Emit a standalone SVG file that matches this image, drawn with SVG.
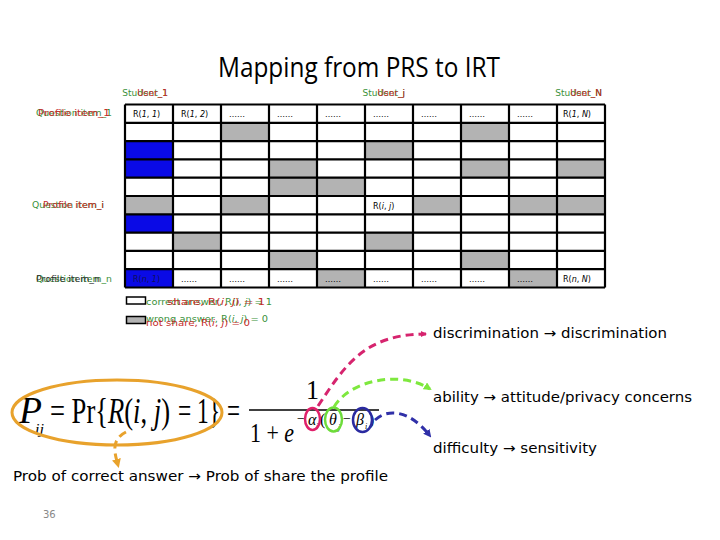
<svg xmlns="http://www.w3.org/2000/svg" width="720" height="540" viewBox="0 0 720 540">
<style>
.lbl{font-family:"DejaVu Sans",Verdana,sans-serif;font-size:9px}
.g{fill:#3a913a}
.r{fill:#c42a2a}
.cell{font-family:"DejaVu Sans",Verdana,sans-serif;font-size:8px;fill:#000}
.gray{fill:#b3b3b3}
.blue{fill:#0a0ae6}
.grid{stroke:#000;stroke-width:2.2;fill:none}
.eq{font-family:"Liberation Serif","Times New Roman",serif;fill:#000}
.txt{font-family:"DejaVu Sans",Verdana,sans-serif;font-size:14px;fill:#000}
.dash{fill:none;stroke-width:3;stroke-dasharray:8 5}
</style>
<defs>
<marker id="aPink" markerWidth="6" markerHeight="6" refX="5" refY="3" orient="auto" markerUnits="userSpaceOnUse"><path d="M0,0 L6,3 L0,6 z" fill="#d6246e"/></marker>
<marker id="aGreen" markerWidth="8" markerHeight="8" refX="6" refY="4" orient="auto" markerUnits="userSpaceOnUse"><path d="M0,0 L8,4 L0,8 z" fill="#7ee83e"/></marker>
<marker id="aBlue" markerWidth="8" markerHeight="8" refX="6" refY="4" orient="auto" markerUnits="userSpaceOnUse"><path d="M0,0 L8,4 L0,8 z" fill="#3030a8"/></marker>
<marker id="aOrange" markerWidth="9" markerHeight="9" refX="6" refY="4.5" orient="auto" markerUnits="userSpaceOnUse"><path d="M0,0 L9,4.5 L0,9 z" fill="#e8a22c"/></marker>
</defs>

<rect width="720" height="540" fill="#fff"/>

<g id="title">
<text x="359" y="77" text-anchor="middle" font-family="'Open Sans','Liberation Sans',sans-serif" font-size="27" textLength="282" lengthAdjust="spacingAndGlyphs" fill="#000">Mapping from PRS to IRT</text>
</g>

<g id="col-labels" class="lbl">
<text x="168" y="96" text-anchor="end" class="g">Student_1</text>
<text x="168" y="96" text-anchor="end" class="r">User_1</text>
<text x="405" y="96" text-anchor="end" class="g">Student_j</text>
<text x="405" y="96" text-anchor="end" class="r">User_j</text>
<text x="602" y="96" text-anchor="end" class="g">Student_N</text>
<text x="602" y="96" text-anchor="end" class="r">User_N</text>
</g>

<g id="row-labels" class="lbl">
<text x="36" y="116" textLength="76" lengthAdjust="spacingAndGlyphs" class="g">Question item_1</text>
<text x="38" y="116" textLength="72" lengthAdjust="spacingAndGlyphs" class="r">Profile item_1</text>
<text x="32" y="208" textLength="72" lengthAdjust="spacingAndGlyphs" class="g">Question item_i</text>
<text x="43" y="208" textLength="61" lengthAdjust="spacingAndGlyphs" class="r">Profile item_i</text>
<text x="36" y="282" textLength="76" lengthAdjust="spacingAndGlyphs" class="g">Question item_n</text>
<text x="36" y="282" textLength="64" lengthAdjust="spacingAndGlyphs" fill="#333">Profile item_n</text>
</g>

<g id="matrix">
<g id="fills">
<rect class="gray" x="221" y="122.8" width="48" height="18.3"/>
<rect class="gray" x="461" y="122.8" width="48" height="18.3"/>
<rect class="blue" x="125" y="141.1" width="48" height="18.3"/>
<rect class="gray" x="365" y="141.1" width="48" height="18.3"/>
<rect class="blue" x="125" y="159.4" width="48" height="18.3"/>
<rect class="gray" x="269" y="159.4" width="48" height="18.3"/>
<rect class="gray" x="461" y="159.4" width="48" height="18.3"/>
<rect class="gray" x="557" y="159.4" width="48" height="18.3"/>
<rect class="gray" x="269" y="177.7" width="48" height="18.3"/>
<rect class="gray" x="317" y="177.7" width="48" height="18.3"/>
<rect class="gray" x="125" y="196" width="48" height="18.3"/>
<rect class="gray" x="221" y="196" width="48" height="18.3"/>
<rect class="gray" x="413" y="196" width="48" height="18.3"/>
<rect class="gray" x="509" y="196" width="48" height="18.3"/>
<rect class="gray" x="557" y="196" width="48" height="18.3"/>
<rect class="blue" x="125" y="214.3" width="48" height="18.3"/>
<rect class="gray" x="173" y="232.6" width="48" height="18.3"/>
<rect class="gray" x="365" y="232.6" width="48" height="18.3"/>
<rect class="gray" x="269" y="250.9" width="48" height="18.3"/>
<rect class="gray" x="461" y="250.9" width="48" height="18.3"/>
<rect class="blue" x="125" y="269.2" width="48" height="18.3"/>
<rect class="gray" x="317" y="269.2" width="48" height="18.3"/>
<rect class="gray" x="509" y="269.2" width="48" height="18.3"/>
</g>
<path class="grid" d="M125,104.5V287.5M173,104.5V287.5M221,104.5V287.5M269,104.5V287.5M317,104.5V287.5M365,104.5V287.5M413,104.5V287.5M461,104.5V287.5M509,104.5V287.5M557,104.5V287.5M605,104.5V287.5
M125,104.5H605M125,122.8H605M125,141.1H605M125,159.4H605M125,177.7H605M125,196H605M125,214.3H605M125,232.6H605M125,250.9H605M125,269.2H605M125,287.5H605"/>
<g class="cell">
<text x="133" y="117">R(<tspan font-style="italic">1</tspan>, <tspan font-style="italic">1</tspan>)</text>
<text x="181" y="117">R(<tspan font-style="italic">1</tspan>, <tspan font-style="italic">2</tspan>)</text>
<text x="229" y="117">……</text>
<text x="277" y="117">……</text>
<text x="325" y="117">……</text>
<text x="373" y="117">……</text>
<text x="421" y="117">……</text>
<text x="469" y="117">……</text>
<text x="517" y="117">……</text>
<text x="563" y="117">R(<tspan font-style="italic">1</tspan>, <tspan font-style="italic">N</tspan>)</text>
<text x="373" y="208.5">R(<tspan font-style="italic">i</tspan>, <tspan font-style="italic">j</tspan>)</text>
<text x="133" y="282" fill="#10105a">R(<tspan font-style="italic">n</tspan>, <tspan font-style="italic">1</tspan>)</text>
<text x="181" y="282">……</text>
<text x="229" y="282">……</text>
<text x="277" y="282">……</text>
<text x="325" y="282">……</text>
<text x="373" y="282">……</text>
<text x="421" y="282">……</text>
<text x="469" y="282">……</text>
<text x="517" y="282">……</text>
<text x="563" y="282">R(<tspan font-style="italic">n</tspan>, <tspan font-style="italic">N</tspan>)</text>
</g>
</g>

<g id="legend">
<rect x="126.5" y="297" width="19" height="7" fill="#fff" stroke="#000" stroke-width="1.5"/>
<rect x="126.5" y="316.5" width="19" height="7" fill="#b3b3b3" stroke="#000" stroke-width="1.5"/>
<text x="146" y="305" class="lbl g" font-size="10" textLength="126" lengthAdjust="spacingAndGlyphs">correct answer, R(<tspan font-style="italic">i</tspan>, <tspan font-style="italic">j</tspan>) = 1</text>
<text x="167" y="305" class="lbl r" font-size="10" textLength="98" lengthAdjust="spacingAndGlyphs">share, R(<tspan font-style="italic">i</tspan>, <tspan font-style="italic">j</tspan>) = 1</text>
<text x="146" y="322" class="lbl g" font-size="10" textLength="122" lengthAdjust="spacingAndGlyphs">wrong answer, R(<tspan font-style="italic">i</tspan>, <tspan font-style="italic">j</tspan>) = 0</text>
<text x="146" y="326" class="lbl r" font-size="10" textLength="104" lengthAdjust="spacingAndGlyphs">not share, R(<tspan font-style="italic">i</tspan>, <tspan font-style="italic">j</tspan>) = 0</text>
</g>

<g id="formula" class="eq">
<text x="19" y="423" font-size="38" font-style="italic" textLength="23" lengthAdjust="spacingAndGlyphs">P</text>
<text x="35" y="434" font-size="15" font-style="italic" textLength="9" lengthAdjust="spacingAndGlyphs">ij</text>
<text x="50" y="423" font-size="36" textLength="58" lengthAdjust="spacingAndGlyphs">= Pr{</text>
<text x="108" y="423" font-size="36" textLength="62" lengthAdjust="spacingAndGlyphs"><tspan font-style="italic">R</tspan>(<tspan font-style="italic">i</tspan>, <tspan font-style="italic">j</tspan>)</text>
<text x="178" y="423" font-size="36" textLength="42" lengthAdjust="spacingAndGlyphs">= 1}</text>
<text x="227" y="423" font-size="36" textLength="13" lengthAdjust="spacingAndGlyphs">=</text>
<line x1="249" y1="410" x2="379" y2="410" stroke="#000" stroke-width="1.5"/>
<text x="306" y="399" font-size="28" textLength="13" lengthAdjust="spacingAndGlyphs">1</text>
<text x="250" y="442" font-size="28" textLength="44" lengthAdjust="spacingAndGlyphs">1 + <tspan font-style="italic">e</tspan></text>
<text x="297" y="423" font-size="14">−</text>
<text x="308" y="425" font-size="16" font-style="italic">α</text>
<text x="316" y="429" font-size="8" font-style="italic">i</text>
<text x="320" y="425" font-size="16">(</text>
<text x="329" y="425" font-size="16" font-style="italic">θ</text>
<text x="338" y="430" font-size="8" font-style="italic">j</text>
<text x="343" y="423" font-size="14">−</text>
<text x="356" y="425" font-size="16" font-style="italic">β</text>
<text x="365" y="429" font-size="8" font-style="italic">i</text>
<text x="369" y="425" font-size="16">)</text>
</g>

<g id="highlights" fill="none" stroke-width="2.5">
<ellipse cx="117" cy="412.5" rx="105" ry="32.5" stroke="#e8a22c" stroke-width="3"/>
<ellipse cx="312.5" cy="419" rx="7.5" ry="11" stroke="#e0206a"/>
<ellipse cx="333.5" cy="419.5" rx="8.5" ry="12" stroke="#6ddc3a"/>
<ellipse cx="362.5" cy="420" rx="9.5" ry="12" stroke="#2a2aa0"/>
</g>

<g id="connectors">
<path class="dash" d="M318,406 C345,365 365,334 426,334" stroke="#d6246e" marker-end="url(#aPink)"/>
<path class="dash" d="M334,407 C350,380 400,370 430,389" stroke="#7ee83e" marker-end="url(#aGreen)"/>
<path class="dash" d="M375,420 C388,408 410,410 430,436" stroke="#3030a8" marker-end="url(#aBlue)"/>
<path class="dash" d="M126,432 C110,440 115,454 118,465" stroke="#e8a22c" marker-end="url(#aOrange)"/>
</g>

<g id="notes" class="txt">
<text x="433" y="338" textLength="234" lengthAdjust="spacingAndGlyphs">discrimination → discrimination</text>
<text x="433" y="402" textLength="259" lengthAdjust="spacingAndGlyphs">ability → attitude/privacy concerns</text>
<text x="433" y="453" textLength="164" lengthAdjust="spacingAndGlyphs">difficulty → sensitivity</text>
<text x="13" y="481" textLength="375" lengthAdjust="spacingAndGlyphs">Prob of correct answer → Prob of share the profile</text>
</g>

<g id="page">
<text x="43" y="518" font-family="'DejaVu Sans',sans-serif" font-size="10" fill="#888">36</text>
</g>
</svg>
